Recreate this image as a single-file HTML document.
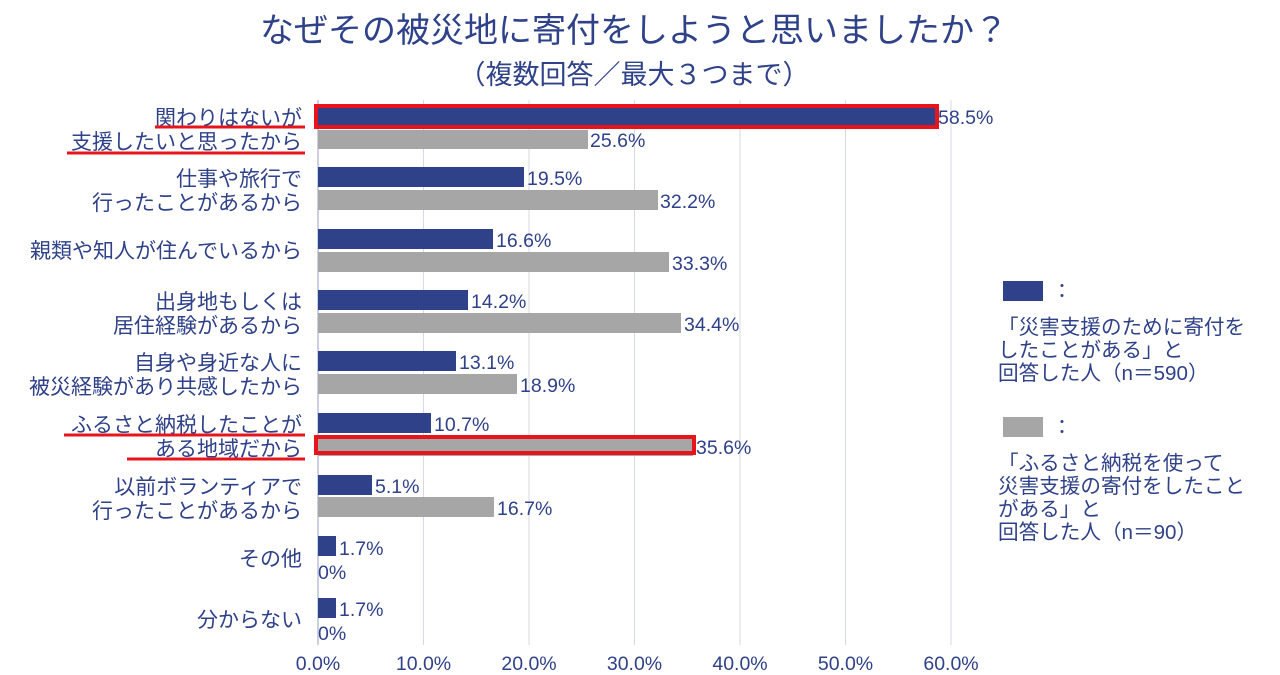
<!DOCTYPE html>
<html><head><meta charset="utf-8"><style>
body{margin:0;background:#fff}
svg text{font-family:"Liberation Sans","Noto Sans CJK JP",sans-serif;fill:#2e4189}
</style></head><body>
<svg width="1280" height="670" viewBox="0 0 1280 670">
<text x="634" y="42" font-size="34" text-anchor="middle">なぜその被災地に寄付をしようと思いましたか？</text>
<text x="634" y="84" font-size="27" text-anchor="middle">（複数回答／最大３つまで）</text>
<g stroke="#d5d8e6" stroke-width="1">
<line x1="423.5" y1="100" x2="423.5" y2="645"/><line x1="529" y1="100" x2="529" y2="645"/>
<line x1="634.5" y1="100" x2="634.5" y2="645"/><line x1="740" y1="100" x2="740" y2="645"/>
<line x1="845.5" y1="100" x2="845.5" y2="645"/><line x1="951" y1="100" x2="951" y2="645"/>
</g>
<line x1="318" y1="100" x2="318" y2="645" stroke="#b8bfd8" stroke-width="1.5"/>
<g font-size="19.5" text-anchor="middle">
<text x="318" y="670">0.0%</text><text x="423.5" y="670">10.0%</text><text x="529" y="670">20.0%</text>
<text x="634.5" y="670">30.0%</text><text x="740" y="670">40.0%</text><text x="845.5" y="670">50.0%</text><text x="951" y="670">60.0%</text>
</g>
<g font-size="19.5">
<rect x="318" y="107" width="617" height="19" fill="#2e4189"/><text x="938" y="124">58.5%</text>
<rect x="318" y="130" width="270" height="19" fill="#a6a6a6"/><text x="590" y="147">25.6%</text>
<rect x="318" y="167" width="206" height="20" fill="#2e4189"/><text x="527" y="185">19.5%</text>
<rect x="318" y="190" width="340" height="20" fill="#a6a6a6"/><text x="660" y="208">32.2%</text>
<rect x="318" y="229" width="175" height="20" fill="#2e4189"/><text x="496" y="247">16.6%</text>
<rect x="318" y="252" width="351" height="20" fill="#a6a6a6"/><text x="672" y="270">33.3%</text>
<rect x="318" y="290" width="150" height="20" fill="#2e4189"/><text x="471" y="308">14.2%</text>
<rect x="318" y="313" width="363" height="20" fill="#a6a6a6"/><text x="684" y="331">34.4%</text>
<rect x="318" y="351" width="138" height="20" fill="#2e4189"/><text x="459" y="369">13.1%</text>
<rect x="318" y="374" width="199" height="20" fill="#a6a6a6"/><text x="520" y="392">18.9%</text>
<rect x="318" y="413" width="113" height="20" fill="#2e4189"/><text x="434" y="431">10.7%</text>
<rect x="318" y="436" width="375" height="20" fill="#a6a6a6"/><text x="696" y="454">35.6%</text>
<rect x="318" y="475" width="54" height="20" fill="#2e4189"/><text x="375" y="493">5.1%</text>
<rect x="318" y="497" width="176" height="20" fill="#a6a6a6"/><text x="497" y="515">16.7%</text>
<rect x="318" y="536" width="18" height="20" fill="#2e4189"/><text x="339" y="555">1.7%</text>
<text x="318" y="579">0%</text>
<rect x="318" y="598" width="18" height="20" fill="#2e4189"/><text x="339" y="616">1.7%</text>
<text x="318" y="640">0%</text>
</g>
<rect x="316" y="106" width="621" height="21" fill="none" stroke="#e8141c" stroke-width="4"/>
<rect x="316" y="437" width="378" height="16" fill="none" stroke="#e8141c" stroke-width="4"/>
<g font-size="21" text-anchor="end">
<text x="302" y="125">関わりはないが</text><text x="302" y="149">支援したいと思ったから</text>
<text x="302" y="186">仕事や旅行で</text><text x="302" y="210">行ったことがあるから</text>
<text x="302" y="258">親類や知人が住んでいるから</text>
<text x="302" y="309">出身地もしくは</text><text x="302" y="333">居住経験があるから</text>
<text x="302" y="370">自身や身近な人に</text><text x="302" y="394">被災経験があり共感したから</text>
<text x="302" y="432">ふるさと納税したことが</text><text x="302" y="456">ある地域だから</text>
<text x="302" y="494">以前ボランティアで</text><text x="302" y="518">行ったことがあるから</text>
<text x="302" y="566">その他</text>
<text x="302" y="627">分からない</text>
</g>
<g stroke="#e8141c" stroke-width="3">
<line x1="155" y1="127" x2="305" y2="127"/><line x1="67" y1="153" x2="305" y2="153"/>
<line x1="64" y1="435" x2="305" y2="435"/><line x1="127" y1="459" x2="305" y2="459"/>
</g>
<rect x="1003" y="281" width="40" height="20" fill="#2e4189"/>
<text x="1052" y="298" font-size="20">：</text>
<g font-size="20.6">
<text x="998" y="334">「災害支援のために寄付を</text>
<text x="998" y="357">したことがある」と</text>
<text x="998" y="380">回答した人（n＝590）</text>
</g>
<rect x="1003" y="417" width="40" height="20" fill="#a6a6a6"/>
<text x="1052" y="434" font-size="20">：</text>
<g font-size="20.6">
<text x="998" y="470">「ふるさと納税を使って</text>
<text x="998" y="493">災害支援の寄付をしたこと</text>
<text x="998" y="516">がある」と</text>
<text x="998" y="539">回答した人（n＝90）</text>
</g>
</svg>
</body></html>
